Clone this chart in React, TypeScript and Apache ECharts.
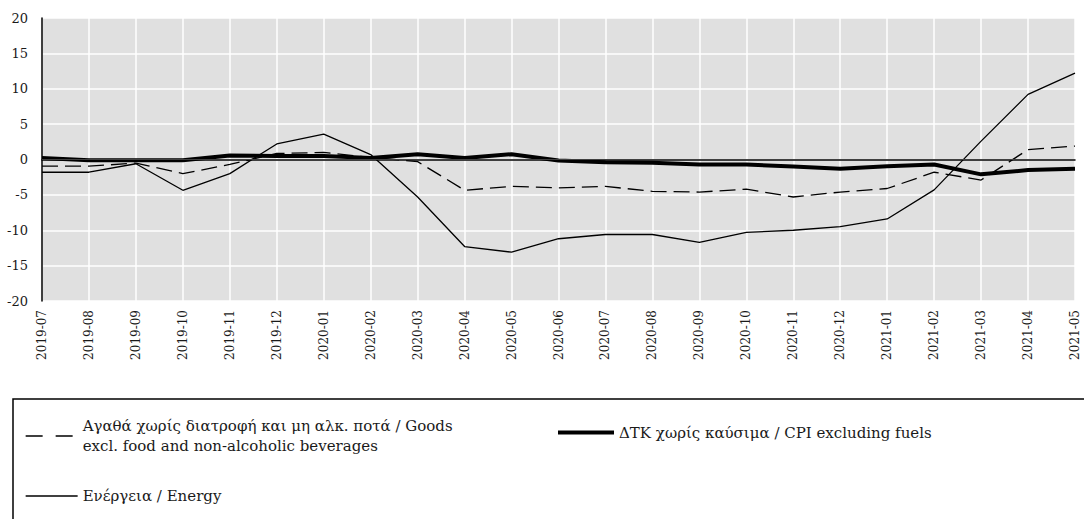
import React, { useEffect, useRef } from "react";
import * as echarts from "echarts";

const categories = [
  "2019-07", "2019-08", "2019-09", "2019-10", "2019-11", "2019-12",
  "2020-01", "2020-02", "2020-03", "2020-04", "2020-05", "2020-06",
  "2020-07", "2020-08", "2020-09", "2020-10", "2020-11", "2020-12",
  "2021-01", "2021-02", "2021-03", "2021-04", "2021-05",
];

const goodsName = "Αγαθά χωρίς διατροφή και μη αλκ. ποτά / Goods\nexcl. food and non-alcoholic beverages";
const energyName = "Ενέργεια / Energy";
const cpiName = "ΔΤΚ χωρίς καύσιμα / CPI excluding fuels";

const goodsValues = [
  -0.95, -0.95, -0.5, -2.0, -0.7, 0.85, 1.0, 0.3, -0.3, -4.35, -3.8, -4.0,
  -3.8, -4.5, -4.6, -4.2, -5.3, -4.6, -4.1, -1.8, -2.9, 1.4, 1.9,
];
const energyValues = [
  -1.8, -1.8, -0.6, -4.35, -2.0, 2.2, 3.6, 0.7, -5.3, -12.3, -13.1, -11.2,
  -10.6, -10.6, -11.7, -10.3, -10.0, -9.5, -8.4, -4.3, 2.6, 9.2, 12.2,
];
const cpiValues = [
  0.2, -0.1, -0.1, -0.1, 0.55, 0.5, 0.5, 0.2, 0.75, 0.2, 0.75, -0.15,
  -0.4, -0.45, -0.7, -0.7, -1.0, -1.3, -0.95, -0.7, -2.1, -1.5, -1.3,
];

const FONT = "DejaVu Serif";

export default function App() {
  const ref = useRef<HTMLDivElement>(null);
  useEffect(() => {
    if (!ref.current) return;
    const chart = echarts.init(ref.current, undefined, { renderer: "svg" });
    chart.setOption({
      animation: false,
      backgroundColor: "#ffffff",
      textStyle: { fontFamily: FONT },
      grid: {
        left: 42,
        right: 9,
        top: 18,
        bottom: 218,
        show: true,
        backgroundColor: "#e0e0e0",
        borderWidth: 0,
      },
      xAxis: {
        type: "category",
        data: categories,
        boundaryGap: false,
        axisLine: { show: true, lineStyle: { color: "#000", width: 1.5 } },
        axisTick: { show: false },
        axisLabel: {
          rotate: 90,
          margin: 9,
          interval: 0,
          color: "#1a1a1a",
          fontFamily: FONT,
          fontSize: 12,
        },
        splitLine: { show: true, lineStyle: { color: "#ffffff", width: 1.5 } },
      },
      yAxis: {
        type: "value",
        min: -20,
        max: 20,
        interval: 5,
        axisLine: { show: true, lineStyle: { color: "#000", width: 1.5 } },
        axisTick: { show: false },
        axisLabel: {
          margin: 14,
          color: "#1a1a1a",
          fontFamily: FONT,
          fontSize: 13,
        },
        splitLine: { show: true, lineStyle: { color: "#ffffff", width: 1.5 } },
      },
      legend: [
        {
          orient: "vertical",
          left: 20,
          top: 411,
          itemWidth: 52,
          itemHeight: 10,
          itemGap: 30,
          itemStyle: { opacity: 0 },
          lineStyle: { width: 1.3 },
          data: [
            { name: goodsName, lineStyle: { type: [17, 13] } },
            { name: energyName },
          ],
          textStyle: { fontFamily: FONT, fontSize: 15, color: "#1a1a1a", lineHeight: 20 },
        },
        {
          orient: "vertical",
          left: 551,
          top: 420,
          itemWidth: 56,
          itemHeight: 10,
          itemStyle: { opacity: 0 },
          lineStyle: { width: 4 },
          data: [cpiName],
          textStyle: { fontFamily: FONT, fontSize: 15, color: "#1a1a1a" },
        },
      ],
      graphic: [
        {
          type: "rect",
          silent: true,
          shape: { x: 13, y: 399, width: 1120, height: 200 },
          style: { fill: "none", stroke: "#000", lineWidth: 1.5 },
        },
      ],
      series: [
        {
          name: goodsName,
          type: "line",
          data: goodsValues,
          symbol: "none",
          lineStyle: { color: "#000", width: 1.3, type: [16, 7] },
          itemStyle: { color: "#000" },
          z: 3,
        },
        {
          name: energyName,
          type: "line",
          data: energyValues,
          symbol: "none",
          lineStyle: { color: "#000", width: 1.3 },
          itemStyle: { color: "#000" },
          z: 3,
          markLine: {
            silent: true,
            symbol: "none",
            label: { show: false },
            lineStyle: { color: "#404040", width: 1.2, type: "solid" },
            data: [{ yAxis: 0 }],
          },
        },
        {
          name: cpiName,
          type: "line",
          data: cpiValues,
          symbol: "none",
          lineStyle: { color: "#000", width: 4 },
          itemStyle: { color: "#000" },
          z: 4,
        },
      ],
    });
    return () => chart.dispose();
  }, []);
  return (
    <div
      ref={ref}
      style={{ position: "fixed", left: 0, top: 0, width: 1084, height: 519 }}
    />
  );
}
